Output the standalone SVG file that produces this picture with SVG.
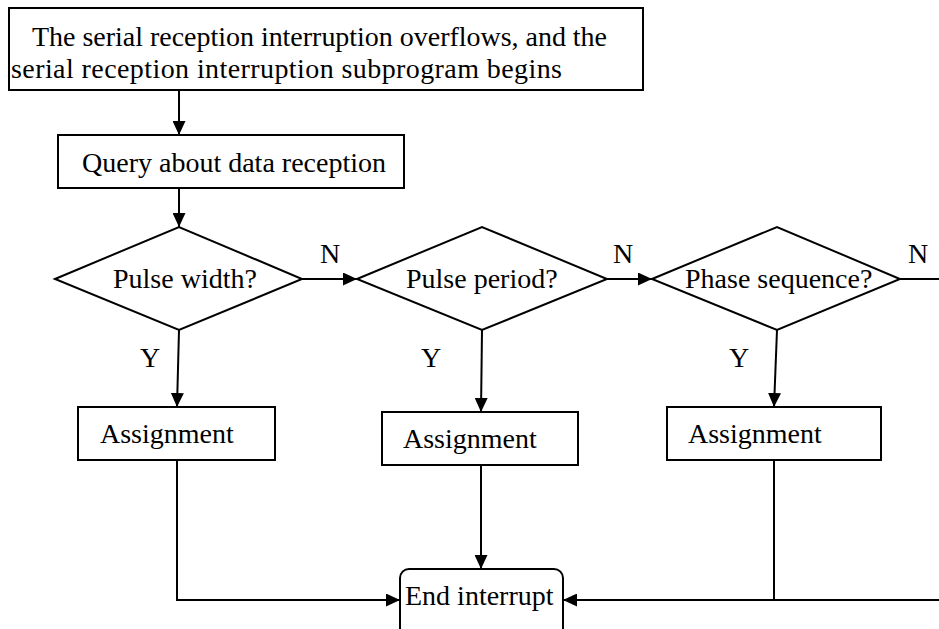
<svg xmlns="http://www.w3.org/2000/svg" width="939" height="629" viewBox="0 0 939 629">
<defs>
<marker id="arr" markerUnits="userSpaceOnUse" markerWidth="14" markerHeight="13" refX="14" refY="6.5" orient="auto">
<path d="M0,0 L14,6.5 L0,13 z" fill="#000"/>
</marker>
<style>
.box{fill:#fff;stroke:#000;stroke-width:2}
.t{font-family:"Liberation Serif","Times New Roman",serif;font-size:28px;fill:#000}
.c{fill:none;stroke:#000;stroke-width:2}
.a{marker-end:url(#arr)}
</style>
</defs>
<rect width="939" height="629" fill="#fff"/>
<g id="start">
<rect class="box" x="9" y="8" width="634" height="82"/>
<text class="t" x="32" y="46" textLength="575" lengthAdjust="spacing">The serial reception interruption overflows, and the</text>
<text class="t" x="11" y="78" textLength="551" lengthAdjust="spacing">serial reception interruption subprogram begins</text>
</g>
<g id="query">
<rect class="box" x="58" y="135" width="346" height="53"/>
<text class="t" x="82" y="172">Query about data reception</text>
</g>
<g id="d1">
<polygon class="box" points="55,279 179,227 302,279 179,330"/>
<text class="t" x="113" y="288">Pulse width?</text>
</g>
<g id="d2">
<polygon class="box" points="357,279 482,227 607,279 482,330"/>
<text class="t" x="406" y="288">Pulse period?</text>
</g>
<g id="d3">
<polygon class="box" points="652,279 777,227 900,279 777,330"/>
<text class="t" x="685" y="288">Phase sequence?</text>
</g>
<g id="a1">
<rect class="box" x="78" y="407" width="197" height="53"/>
<text class="t" x="100" y="443">Assignment</text>
</g>
<g id="a2">
<rect class="box" x="382" y="412" width="196" height="53"/>
<text class="t" x="403" y="448">Assignment</text>
</g>
<g id="a3">
<rect class="box" x="667" y="407" width="214" height="53"/>
<text class="t" x="688" y="443">Assignment</text>
</g>
<g id="end">
<rect class="box" x="400" y="569" width="163" height="80" rx="9" ry="9"/>
<text class="t" x="405" y="605">End interrupt</text>
</g>
<g id="connectors">
<line class="c a" x1="179" y1="90" x2="179" y2="135"/>
<line class="c a" x1="179" y1="188" x2="179" y2="227"/>
<line class="c a" x1="302" y1="279" x2="357" y2="279"/>
<line class="c a" x1="607" y1="279" x2="652" y2="279"/>
<line class="c" x1="900" y1="279" x2="939" y2="279"/>
<line class="c a" x1="179" y1="330" x2="177" y2="407"/>
<line class="c a" x1="482" y1="330" x2="481" y2="412"/>
<line class="c a" x1="777" y1="330" x2="774" y2="407"/>
<polyline class="c a" points="177,460 177,600 400,600"/>
<line class="c a" x1="481" y1="465" x2="481" y2="569"/>
<line class="c" x1="774" y1="460" x2="774" y2="600"/>
<line class="c a" x1="939" y1="600" x2="563" y2="600"/>
<text class="t" x="320" y="263">N</text>
<text class="t" x="613" y="263">N</text>
<text class="t" x="908" y="263">N</text>
<text class="t" x="140" y="367">Y</text>
<text class="t" x="421" y="367">Y</text>
<text class="t" x="729" y="367">Y</text>
</g>
</svg>
